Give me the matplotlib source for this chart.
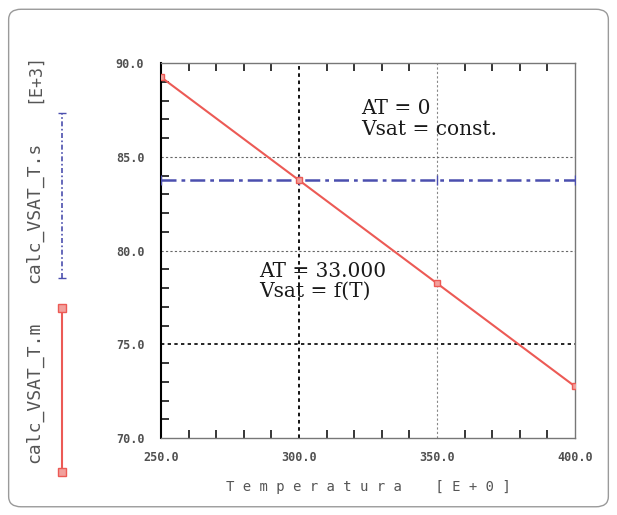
import matplotlib
matplotlib.use("Agg")
import matplotlib.pyplot as plt
from matplotlib.lines import Line2D
from matplotlib.patches import FancyBboxPatch
import numpy as np

# data
temperature = [250.0, 300.0, 350.0, 400.0]
vsat_model = [89.25, 83.75, 78.25, 72.75]      # calc_VSAT_T.m (AT = 33.000)
vsat_const = [83.75, 83.75, 83.75, 83.75]      # calc_VSAT_T.s (AT = 0)
x_ticks = [250.0, 300.0, 350.0, 400.0]
y_ticks = [70.0, 75.0, 80.0, 85.0, 90.0]

RED = "#ec5a55"
BLUE = "#4b4fae"
MONO = "DejaVu Sans Mono"
GREY_TXT = "#555555"

fig = plt.figure(figsize=(6.17, 5.15), dpi=100)

# rounded outer frame
frame = FancyBboxPatch((0.014, 0.016), 0.972, 0.966, boxstyle="round,pad=0,rounding_size=0.02",
                       transform=fig.transFigure, fill=False, edgecolor="#9a9a9a", linewidth=1.0)
fig.add_artist(frame)

ax = fig.add_axes([0.261, 0.1495, 0.671, 0.728])

# grid lines
ax.axvline(300, color="black", linestyle=(0, (2, 2)), linewidth=1.3, zorder=1)
ax.axvline(350, color="#888888", linestyle=(0, (2, 2)), linewidth=0.8, zorder=1)
for yv in (80.0, 85.0):
    ax.axhline(yv, color="#666666", linestyle=(0, (2, 2)), linewidth=0.8, zorder=1)
ax.axhline(75.0, color="black", linestyle=(0, (2, 2)), linewidth=1.2, zorder=1)

ax.plot(temperature, vsat_const, color=BLUE, linestyle=(0, (6, 2, 1.5, 2)), linewidth=1.8,
        marker="|", markersize=7, zorder=3)
ax.plot(temperature, vsat_model, color=RED, linewidth=1.5, marker="s", markersize=5,
        markerfacecolor="#f2a09c", markeredgecolor=RED, zorder=4)

ax.set_xlim(250, 400)
ax.set_ylim(70, 90)
ax.set_xticks(x_ticks)
ax.set_xticklabels([f"{v:.1f}" for v in x_ticks], fontfamily=MONO, fontsize=8.5,
                   fontweight="bold", color="#505050")
ax.set_yticks(y_ticks)
ax.set_yticklabels([f"{v:.1f}" for v in y_ticks], fontfamily=MONO, fontsize=8.5,
                   fontweight="bold", color="#505050")
ax.set_xticks(np.arange(260, 400, 10), minor=True)
ax.set_yticks(np.arange(71, 90, 1), minor=True)
ax.tick_params(which="major", direction="in", length=0)
ax.tick_params(which="minor", direction="in", length=6, width=1.1, top=True, right=False)
ax.tick_params(axis="x", which="major", pad=9)
ax.tick_params(axis="y", which="major", pad=12)
for sp in ax.spines.values():
    sp.set_color("#777777")
    sp.set_linewidth(1.0)
ax.spines["left"].set_color("black")
ax.spines["left"].set_linewidth(1.5)

ax.set_xlabel("T e m p e r a t u r a    [ E + 0 ]", fontfamily=MONO, fontsize=10,
              color=GREY_TXT, labelpad=12)

ax.text(322.5, 88.1, "AT = 0\nVsat = const.", fontfamily="DejaVu Serif", fontsize=14.5,
        va="top", ha="left", color="#1a1a1a", linespacing=1.15)
ax.text(285.5, 79.4, "AT = 33.000\nVsat = f(T)", fontfamily="DejaVu Serif", fontsize=14.5,
        va="top", ha="left", color="#1a1a1a", linespacing=1.05)

# vertical legend on the left
fig.text(0.055, 1 - 392 / 515, "calc_VSAT_T.m", rotation=90, fontfamily=MONO,
         fontsize=13, color=GREY_TXT, ha="center", va="center")
fig.text(0.055, 1 - 212 / 515, "calc_VSAT_T.s", rotation=90, fontfamily=MONO,
         fontsize=13, color=GREY_TXT, ha="center", va="center")
fig.text(0.055, 1 - 78 / 515, "[E+3]", rotation=90, fontfamily=MONO,
         fontsize=12, color=GREY_TXT, ha="center", va="center")
fig.add_artist(Line2D([0.100, 0.100], [1 - 472 / 515, 1 - 308 / 515], transform=fig.transFigure,
                      color=RED, linewidth=1.5, marker="s", markersize=6,
                      markerfacecolor="#f2a09c", markeredgecolor=RED))
fig.add_artist(Line2D([0.100, 0.100], [1 - 278 / 515, 1 - 113 / 515], transform=fig.transFigure,
                      color=BLUE, linestyle=(0, (3, 1.5, 1, 1.5)), linewidth=1.2,
                      marker="_", markersize=6))

fig.savefig("out.png", dpi=100)
